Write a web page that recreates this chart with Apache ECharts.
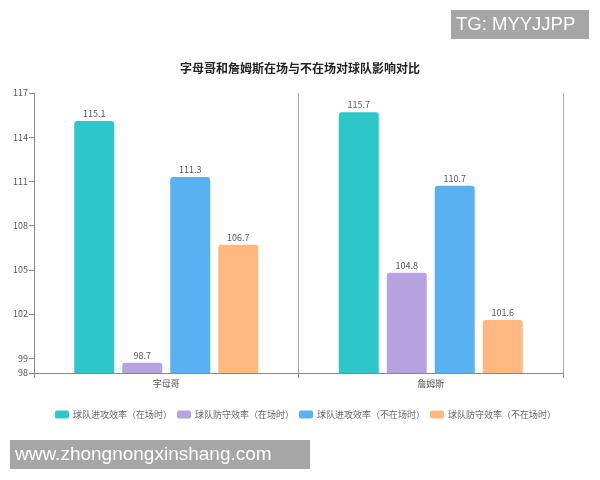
<!DOCTYPE html>
<html><head><meta charset="utf-8">
<script src="https://cdn.jsdelivr.net/npm/echarts@6/dist/echarts.min.js"></script>
<style>html,body{margin:0;padding:0;background:#fff}#c{width:600px;height:480px}</style>
</head><body><div id="c"></div>
<script>
const categories = ['字母哥', '詹姆斯'];
const seriesNames = ['球队进攻效率（在场时）', '球队防守效率（在场时）', '球队进攻效率（不在场时）', '球队防守效率（不在场时）'];
const offOn = [115.1, 115.7];
const defOn = [98.7, 104.8];
const offOff = [111.3, 110.7];
const defOff = [106.7, 101.6];
const yTicks = [98, 99, 102, 105, 108, 111, 114, 117];
const colors = ['#2ec7c9', '#b6a2de', '#5ab1ef', '#ffb980'];
const values = [offOn, defOn, offOff, defOff];

const chart = echarts.init(document.getElementById('c'), null, {renderer: 'canvas'});
const font = "'Noto Sans CJK SC', 'Liberation Sans', sans-serif";
chart.setOption({
  animation: false,
  backgroundColor: '#fff',
  title: {
    text: '字母哥和詹姆斯在场与不在场对球队影响对比',
    left: 'center', top: 57,
    textStyle: {fontSize: 12, fontWeight: 'bold', color: '#222', fontFamily: font}
  },
  legend: {
    bottom: 56, left: 50,
    itemWidth: 14, itemHeight: 8, itemGap: 5,
    icon: 'roundRect',
    textStyle: {fontSize: 9, color: '#666', fontFamily: font, padding: [0, 0, 0, -1]},
    data: seriesNames
  },
  grid: {left: 34, right: 37, top: 93, bottom: 107, containLabel: false},
  xAxis: {
    type: 'category', data: categories, boundaryGap: true,
    axisLine: {lineStyle: {color: '#888'}},
    axisTick: {show: true, lineStyle: {color: '#888'}},
    axisLabel: {fontSize: 9, color: '#555', margin: 6, fontFamily: font},
    splitLine: {show: true, lineStyle: {color: '#aaa', width: 1}}
  },
  yAxis: {
    type: 'value', min: 98, max: 117,
    axisLine: {show: true, lineStyle: {color: '#888'}},
    axisTick: {show: true, customValues: yTicks, lineStyle: {color: '#888'}},
    axisLabel: {fontSize: 9, color: '#555', customValues: yTicks, margin: 6, fontFamily: font},
    splitLine: {show: false}
  },
  series: seriesNames.map((n, i) => ({
    name: n, type: 'bar', data: values[i],
    barWidth: 40, barGap: '20%',
    itemStyle: {color: colors[i], borderRadius: [3, 3, 0, 0]},
    label: {show: true, position: 'top', fontSize: 9, color: '#555', distance: 3, fontFamily: font}
  })),
  graphic: [
    {type: 'rect', left: 451, top: 10, shape: {width: 138, height: 29}, style: {fill: '#a6a6a6'}},
    {type: 'text', x: 456, y: 25, style: {text: 'TG: MYYJJPP', fill: '#fff', fontSize: 18.5, verticalAlign: 'middle', fontFamily: "'Liberation Sans', Arial, sans-serif"}},
    {type: 'rect', left: 10, top: 440, shape: {width: 300, height: 29}, style: {fill: '#a6a6a6'}},
    {type: 'text', x: 15, y: 455, style: {text: 'www.zhongnongxinshang.com', fill: '#fff', fontSize: 19, verticalAlign: 'middle', fontFamily: "'Liberation Sans', Arial, sans-serif"}}
  ]
});
</script></body></html>
